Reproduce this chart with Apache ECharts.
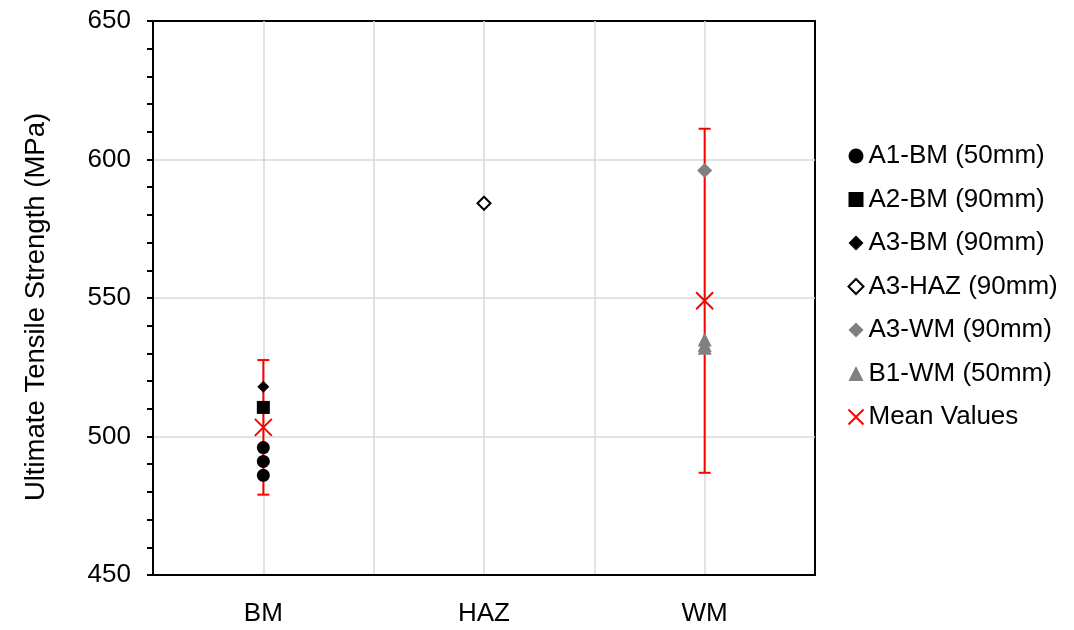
<!DOCTYPE html>
<html>
<head>
<meta charset="utf-8">
<style>
  html, body { margin: 0; padding: 0; background: #fff; }
  #chart { width: 1074px; height: 630px; }
</style>
<script src="https://cdn.jsdelivr.net/npm/echarts@6/dist/echarts.min.js"></script>
</head>
<body>
<div id="chart"></div>
<script>
// Weld zone categories and their positions on the x scale
const categories = ['BM', 'HAZ', 'WM'];
const categoryPos = [1, 3, 5];

// Ultimate tensile strength per specimen group (MPa)
const a1bm = [486, 491, 496];
const a2bm = [510.5];
const a3bm = [518];
const a3haz = [584.2];
const a3wm = [596];
const b1wm = [535, 533, 532];

// Mean value and standard deviation per zone (HAZ has none)
const meanValues = [503.3, null, 549];
const stdDevs = [24.3, null, 62.1];

const yTicks = [450, 500, 550, 600, 650];

const FONT = '"Liberation Sans", Arial, sans-serif';
const GREY = '#808080';
const RED = '#ff0000';

function pts(zoneIdx, values) {
  return values.map(v => [categoryPos[zoneIdx], v]);
}

const meanData = [];
const errData = [];
meanValues.forEach((m, i) => {
  if (m == null) return;
  meanData.push([categoryPos[i], m]);
  errData.push([categoryPos[i], m - stdDevs[i], m + stdDevs[i]]);
});

const crossPath = 'path://M0,0L10,10M10,0L0,10';

const chart = echarts.init(document.getElementById('chart'), null, { renderer: 'canvas' });

const gridLine = { show: true, showMinLine: false, showMaxLine: false,
                   lineStyle: { color: '#d9d9d9', width: 1.5 } };

chart.setOption({
  animation: false,
  backgroundColor: '#fff',
  textStyle: { fontFamily: FONT },
  grid: {
    left: 153, right: 259, top: 21, bottom: 55,
    show: true, borderColor: '#000', borderWidth: 2, backgroundColor: 'transparent'
  },
  xAxis: {
    type: 'value', min: 0, max: 6, interval: 1,
    axisLine: { show: true, lineStyle: { color: '#000', width: 2 } },
    axisTick: { show: false },
    splitLine: gridLine,
    axisLabel: {
      color: '#000', fontSize: 26, fontFamily: FONT, margin: 26,
      formatter: v => {
        const k = categoryPos.indexOf(v);
        return k >= 0 ? categories[k] : '';
      }
    }
  },
  yAxis: {
    type: 'value', min: yTicks[0], max: yTicks[yTicks.length - 1], interval: 50,
    name: 'Ultimate Tensile Strength (MPa)',
    nameLocation: 'middle', nameGap: 103, nameRotate: 90,
    nameTextStyle: { color: '#000', fontSize: 27.5, fontFamily: FONT, padding: [0, 18, 0, 0] },
    axisLine: { show: true, lineStyle: { color: '#000', width: 2 } },
    axisTick: { show: true, inside: false, length: 6, lineStyle: { color: '#000', width: 2 } },
    minorTick: { show: true, splitNumber: 5, length: 6, lineStyle: { color: '#000', width: 2 } },
    splitLine: gridLine,
    axisLabel: { color: '#000', fontSize: 26, fontFamily: FONT, margin: 22 }
  },
  legend: {
    orient: 'vertical', left: 846, top: 143, padding: 0,
    itemWidth: 15, itemHeight: 15, itemGap: 17.5,
    textStyle: { color: '#000', fontSize: 26, fontFamily: FONT, lineHeight: 26 },
    data: [
      { name: 'A1-BM (50mm)' },
      { name: 'A2-BM (90mm)' },
      { name: 'A3-BM (90mm)' },
      { name: 'A3-HAZ (90mm)' },
      { name: 'A3-WM (90mm)' },
      { name: 'B1-WM (50mm)' },
      { name: 'Mean Values' }
    ]
  },
  series: [
    {
      // standard deviation whiskers around the zone means
      type: 'custom', name: 'errorbars', z: 1, silent: true,
      data: errData,
      renderItem: (params, api) => {
        const x = api.value(0);
        const lo = api.coord([x, api.value(1)]);
        const hi = api.coord([x, api.value(2)]);
        const cap = 6;
        const style = { stroke: RED, lineWidth: 2 };
        return {
          type: 'group',
          children: [
            { type: 'line', shape: { x1: lo[0], y1: lo[1], x2: hi[0], y2: hi[1] }, style },
            { type: 'line', shape: { x1: lo[0] - cap, y1: lo[1], x2: lo[0] + cap, y2: lo[1] }, style },
            { type: 'line', shape: { x1: hi[0] - cap, y1: hi[1], x2: hi[0] + cap, y2: hi[1] }, style }
          ]
        };
      }
    },
    { type: 'scatter', name: 'A1-BM (50mm)', z: 3, symbol: 'circle', symbolSize: 13,
      itemStyle: { color: '#000', opacity: 1 }, data: pts(0, a1bm) },
    { type: 'scatter', name: 'A2-BM (90mm)', z: 3, symbol: 'rect', symbolSize: 13,
      itemStyle: { color: '#000', opacity: 1 }, data: pts(0, a2bm) },
    { type: 'scatter', name: 'A3-BM (90mm)', z: 3, symbol: 'diamond', symbolSize: 12,
      itemStyle: { color: '#000', opacity: 1 }, data: pts(0, a3bm) },
    { type: 'scatter', name: 'A3-HAZ (90mm)', z: 3, symbol: 'diamond', symbolSize: 13,
      itemStyle: { color: '#fff', borderColor: '#000', borderWidth: 2, opacity: 1 }, data: pts(1, a3haz) },
    { type: 'scatter', name: 'A3-WM (90mm)', z: 3, symbol: 'diamond', symbolSize: 15,
      itemStyle: { color: GREY, opacity: 1 }, data: pts(2, a3wm) },
    { type: 'scatter', name: 'B1-WM (50mm)', z: 3, symbol: 'triangle', symbolSize: 14,
      itemStyle: { color: GREY, opacity: 1 }, data: pts(2, b1wm) },
    { type: 'scatter', name: 'Mean Values', z: 4, symbol: crossPath, symbolSize: 17,
      itemStyle: { color: 'none', borderColor: RED, borderWidth: 2, opacity: 1 }, data: meanData }
  ]
});
</script>
</body>
</html>
